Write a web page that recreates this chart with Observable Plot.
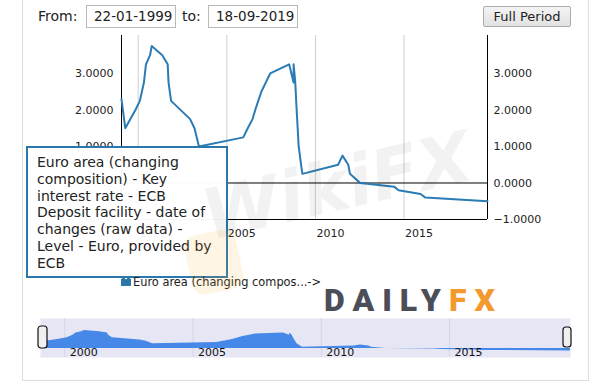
<!DOCTYPE html>
<html>
<head>
<meta charset="utf-8">
<script src="https://cdn.jsdelivr.net/npm/d3@7"></script>
<script src="https://cdn.jsdelivr.net/npm/@observablehq/plot@0.6"></script>
<style>
  html, body { margin: 0; padding: 0; background: #fff; }
  #wrap { position: relative; width: 612px; height: 387px; overflow: hidden; font-family: "DejaVu Sans", Verdana, sans-serif; color: #222; }
  .abs { position: absolute; }
  .frame { left: 22px; top: -2px; width: 567px; height: 383px; border: 1px solid #dedede; box-sizing: border-box; }
  .lbl { font-size: 14px; line-height: 14px; }
  .inp { border: 1px solid #b9b9b9; font-size: 13.5px; line-height: 21px; height: 23px; box-sizing: border-box; padding-left: 7px; background: #fff; }
  .btn { border: 1px solid #aaa; background: linear-gradient(#f4f4f4, #e2e2e2); font-size: 13px; line-height: 19px; height: 21px; box-sizing: border-box; text-align: center; border-radius: 2px; }
  .tip { left: 26px; top: 146px; width: 202px; height: 132px; border: 2px solid #2b77ab; box-sizing: border-box; background: rgba(255,255,255,0.97); font-size: 14px; line-height: 16.8px; padding: 6px 0 0 9px; color: #222; }
  .leg { left: 133px; top: 275px; font-size: 11.4px; line-height: 14px; color: #222; white-space: nowrap; }
  .logo { left: 324px; top: 282px; font-family: Roboto, "DejaVu Sans", sans-serif; font-weight: 900; font-size: 32px; letter-spacing: 8px; line-height: 36px; white-space: nowrap; }
  .wm { left: 212px; top: 180px; font-family: "DejaVu Sans", sans-serif; font-weight: bold; font-style: italic; font-size: 70px; line-height: 72px; color: rgba(0,0,0,0.05); transform: rotate(-13deg); transform-origin: left bottom; white-space: nowrap; pointer-events: none; }
  .wmlogo { left: 188px; top: 232px; width: 52px; height: 60px; border-radius: 12px; background: rgba(245,170,40,0.12); transform: rotate(-12deg); pointer-events: none; }
</style>
</head>
<body>
<div id="wrap">
  <div class="abs frame"></div>
  <div class="abs lbl" style="left:38px; top:9px;">From:</div>
  <div class="abs inp" style="left:86px; top:5px; width:90px;">22-01-1999</div>
  <div class="abs lbl" style="left:182px; top:9px;">to:</div>
  <div class="abs inp" style="left:208px; top:5px; width:90px;">18-09-2019</div>
  <div class="abs btn" style="left:483px; top:6px; width:88px;">Full Period</div>
  <div id="main" class="abs" style="left:0; top:0;"></div>
  <div id="nav" class="abs" style="left:35px; top:318px;"></div>
  <div class="abs logo"><span style="color:#4b4e58">DAILY</span><span style="color:#f39a2e">FX</span></div>
  <div class="abs" style="left:121px; top:279px; width:10px; height:7px; background:#2b77ab;"></div>
  <svg class="abs" style="left:118px; top:274px;" width="18" height="10"><path d="M2,1 L8,7 L14,1" fill="#fff" stroke="#2b77ab" stroke-width="2"/></svg>
  <div class="abs tip">Euro area (changing<br>composition) - Key<br>interest rate - ECB<br>Deposit facility - date of<br>changes (raw data) -<br>Level - Euro, provided by<br>ECB</div>
  <div class="abs leg">Euro area (changing compos...-&gt;</div>
  <div class="abs wmlogo"></div>
  <div class="abs wm">WikiFX</div>
</div>
<script>
// ---- data (ECB deposit facility rate, date of changes) ----
const dates = ["1999-01-22","1999-04-09","1999-11-05","2000-02-04","2000-03-17","2000-04-28","2000-06-09","2000-09-01","2000-10-06","2001-05-11","2001-08-31","2001-09-18","2001-11-09","2002-12-06","2003-03-07","2003-06-06","2005-12-06","2006-03-08","2006-06-15","2006-08-09","2006-10-11","2006-12-13","2007-03-14","2007-06-13","2008-07-09","2008-10-08","2008-10-09","2008-11-12","2008-12-10","2009-01-21","2009-03-11","2009-04-08","2011-04-13","2011-07-13","2011-11-09","2011-12-14","2012-07-11","2014-06-11","2014-09-10","2015-12-09","2016-03-16","2019-09-18"];
const values = [2.30,1.50,2.00,2.25,2.50,2.75,3.25,3.50,3.75,3.50,3.25,2.75,2.25,1.75,1.50,1.00,1.25,1.50,1.75,2.00,2.25,2.50,2.75,3.00,3.25,2.75,3.25,2.75,2.00,1.00,0.50,0.25,0.50,0.75,0.50,0.25,0.00,-0.10,-0.20,-0.30,-0.40,-0.50];
const xTickYears = ["2000-01-01","2005-01-01","2010-01-01","2015-01-01"];
const yTicks = [-1, 0, 1, 2, 3];
const periodStart = "1999-01-22";
const periodEnd = "2019-09-18";

const parse = d3.utcParse("%Y-%m-%d");
const data = dates.map((d, i) => ({date: parse(d), value: values[i]}));
const gridDates = xTickYears.map(parse);
const x0 = parse(periodStart), x1 = parse(periodEnd);
const fmt4 = d3.format(".4f");
const lineColor = "#2b7bb5";

const main = Plot.plot({
  width: 612, height: 250,
  marginLeft: 121, marginRight: 125, marginTop: 35, marginBottom: 31,
  x: {type: "utc", domain: [x0, x1]},
  y: {domain: [-1, 4.04]},
  style: {fontFamily: "DejaVu Sans, Verdana, sans-serif", fontSize: "11px", color: "#222", background: "transparent", overflow: "visible"},
  marks: [
    Plot.ruleX(gridDates, {stroke: "#cfcfcf", strokeWidth: 1}),
    Plot.ruleY([0, -1], {stroke: "#000", strokeWidth: 1}),
    Plot.ruleX([x0, x1], {stroke: "#000", strokeWidth: 1}),
    Plot.axisY({anchor: "left", ticks: yTicks, tickFormat: fmt4, tickSize: 0, tickPadding: 8, label: null}),
    Plot.axisY({anchor: "right", ticks: yTicks, tickFormat: fmt4, tickSize: 0, tickPadding: 6, label: null}),
    Plot.axisX({ticks: gridDates, tickFormat: d3.utcFormat("%Y"), tickSize: 0, tickPadding: 10, textAnchor: "start", dx: 1, label: null}),
    Plot.line(data, {x: "date", y: "value", stroke: lineColor, strokeWidth: 2})
  ]
});
document.getElementById("main").appendChild(main);

const nav = Plot.plot({
  width: 540, height: 39,
  marginLeft: 5, marginRight: 5, marginTop: 0, marginBottom: 0,
  x: {type: "utc", domain: [x0, x1], axis: null},
  y: {domain: [-1.875, 6.25], axis: null},
  style: {fontFamily: "DejaVu Sans, Verdana, sans-serif", fontSize: "11px", color: "#111", background: "transparent", overflow: "visible"},
  marks: [
    Plot.frame({fill: "#e6e6f4", stroke: null}),
    Plot.ruleX(gridDates, {stroke: "#d6d6ea"}),
    Plot.areaY(data, {x: "date", y1: 0, y2: "value", fill: "#4688e8"}),
    Plot.text(gridDates, {x: d => d, text: d => String(d.getUTCFullYear()), frameAnchor: "bottom", textAnchor: "start", lineAnchor: "bottom", dx: 5, dy: -2, fill: "#111"}),
    Plot.rect([x0], {x1: d => d, x2: d => d, insetLeft: -2, insetRight: -7, insetTop: 8, insetBottom: 9, rx: 3, fill: "#f0f0f0", stroke: "#111", strokeWidth: 1.2}),
    Plot.rect([x1], {x1: d => d, x2: d => d, insetLeft: -7, insetRight: -1, insetTop: 9, insetBottom: 10, rx: 3, fill: "#f0f0f0", stroke: "#111", strokeWidth: 1.2})
  ]
});
document.getElementById("nav").appendChild(nav);
</script>
</body>
</html>
